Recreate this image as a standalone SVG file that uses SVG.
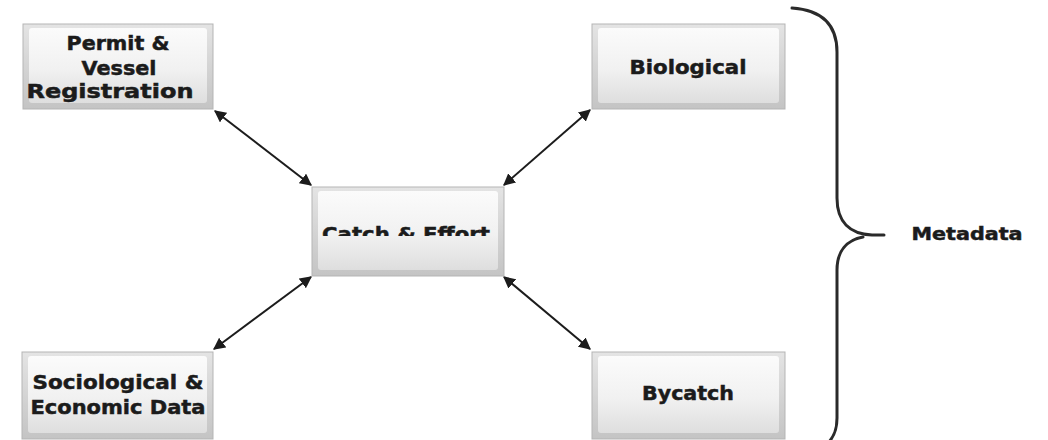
<svg xmlns="http://www.w3.org/2000/svg" width="1048" height="440" viewBox="0 0 1048 440">
  <defs>
    <linearGradient id="bevelOuter" x1="0" y1="0" x2="0" y2="1">
      <stop offset="0" stop-color="#e4e4e4"/>
      <stop offset="1" stop-color="#c4c4c4"/>
    </linearGradient>
    <linearGradient id="bevelFace" x1="0" y1="0" x2="0" y2="1">
      <stop offset="0" stop-color="#fbfbfb"/>
      <stop offset="0.55" stop-color="#f1f1f1"/>
      <stop offset="1" stop-color="#dedede"/>
    </linearGradient>
    <marker id="head" viewBox="0 0 10 10" refX="9" refY="5" markerWidth="6" markerHeight="6" orient="auto-start-reverse" markerUnits="strokeWidth">
      <path d="M0,0 L10,5 L0,10 z" fill="#1c1c1c"/>
    </marker>
    <clipPath id="catchClip">
      <rect x="300" y="190" width="220" height="46"/>
    </clipPath>
  </defs>
  <style>
    .box-outer { fill: url(#bevelOuter); stroke: #b5b5b5; stroke-width: 1; }
    .box-face { fill: url(#bevelFace); stroke: none; }
    .label { font-family: "DejaVu Sans", "Liberation Sans", sans-serif; font-weight: bold; font-size: 20px; fill: #1b1b1b; stroke: #1b1b1b; stroke-width: 0.5; text-anchor: middle; }
    .link { stroke: #1c1c1c; stroke-width: 2; fill: none; marker-start: url(#head); marker-end: url(#head); }
    .brace { stroke: #2a2a2a; stroke-width: 3; fill: none; stroke-linecap: round; }
  </style>

  <rect width="1048" height="440" fill="#ffffff"/>

  <!-- connectors between the centre box and the four outer boxes -->
  <g id="connectors">
    <line class="link" x1="215" y1="111" x2="311" y2="185"/>
    <line class="link" x1="590" y1="110" x2="504" y2="185"/>
    <line class="link" x1="214" y1="349" x2="311" y2="277"/>
    <line class="link" x1="590" y1="349" x2="504" y2="277"/>
  </g>

  <g id="node-permit">
    <rect class="box-outer" x="23" y="24" width="190" height="85"/>
    <rect class="box-face" x="29" y="28" width="178" height="75" rx="3"/>
    <text class="label" x="118" y="50" textLength="103" lengthAdjust="spacingAndGlyphs">Permit &amp;</text>
    <text class="label" x="119" y="75" textLength="75" lengthAdjust="spacingAndGlyphs">Vessel</text>
    <text class="label" x="110" y="98" textLength="167" lengthAdjust="spacingAndGlyphs">Registration</text>
  </g>

  <g id="node-biological">
    <rect class="box-outer" x="592" y="24" width="193" height="85"/>
    <rect class="box-face" x="598" y="28" width="181" height="75" rx="3"/>
    <text class="label" x="688" y="74" textLength="117" lengthAdjust="spacingAndGlyphs">Biological</text>
  </g>

  <g id="node-catch">
    <rect class="box-outer" x="312" y="187" width="192" height="89"/>
    <rect class="box-face" x="318" y="191" width="180" height="79" rx="3"/>
    <text class="label" x="406" y="241" textLength="168" lengthAdjust="spacingAndGlyphs" clip-path="url(#catchClip)">Catch &amp; Effort</text>
  </g>

  <g id="node-socio">
    <rect class="box-outer" x="22" y="352" width="191" height="87"/>
    <rect class="box-face" x="28" y="356" width="179" height="77" rx="3"/>
    <text class="label" x="118" y="389" textLength="171" lengthAdjust="spacingAndGlyphs">Sociological &amp;</text>
    <text class="label" x="118" y="414" textLength="175" lengthAdjust="spacingAndGlyphs">Economic Data</text>
  </g>

  <g id="node-bycatch">
    <rect class="box-outer" x="592" y="352" width="193" height="87"/>
    <rect class="box-face" x="598" y="356" width="181" height="77" rx="3"/>
    <text class="label" x="688" y="400" textLength="92" lengthAdjust="spacingAndGlyphs">Bycatch</text>
  </g>

  <!-- curly brace grouping everything under the metadata label -->
  <g id="brace-metadata">
    <path class="brace" d="M792,8 C822,10 837,25 837,52 L837,198 C837,222 850,234 872,235 L884,235"/>
    <path class="brace" d="M863,237 C847,240 837,251 837,270 L837,418 C837,430 834,436 829,442"/>
    <text class="label" x="967" y="240" textLength="111" lengthAdjust="spacingAndGlyphs" style="font-size:17px">Metadata</text>
  </g>
</svg>
